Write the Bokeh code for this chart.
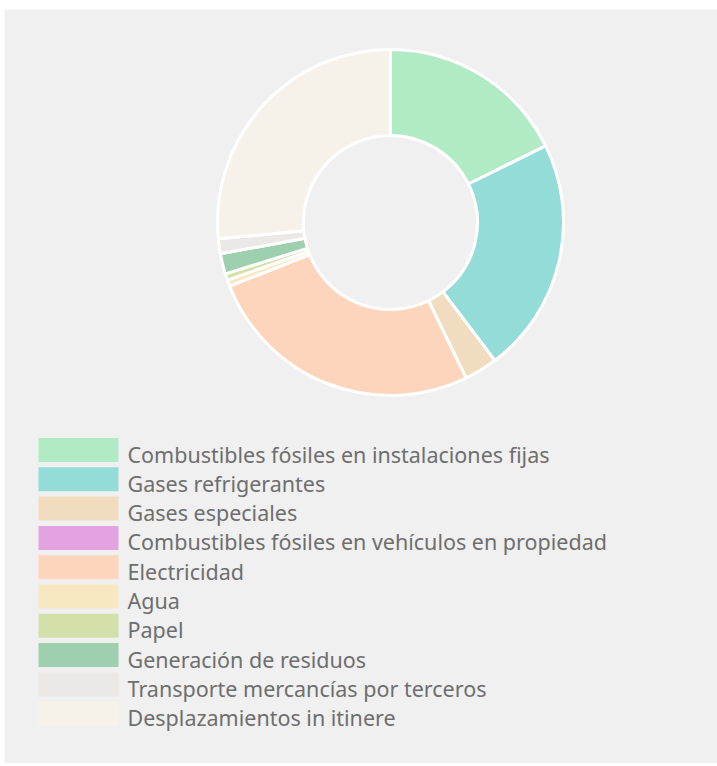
import math
from bokeh.plotting import figure
from bokeh.models import ColumnDataSource, Range1d
from bokeh.core.properties import value
from bokeh.embed import file_html
from bokeh.resources import INLINE

categories = [
    "Combustibles fósiles en instalaciones fijas",
    "Gases refrigerantes",
    "Gases especiales",
    "Combustibles fósiles en vehículos en propiedad",
    "Electricidad",
    "Agua",
    "Papel",
    "Generación de residuos",
    "Transporte mercancías por terceros",
    "Desplazamientos in itinere",
]
values = [17.7, 22.0, 3.1, 0.0, 26.2, 0.6, 0.6, 1.9, 1.4, 26.5]
colors = ["#b0ebc5", "#93dcd8", "#f1dcc0", "#e3a3e0", "#fdd5bd",
          "#f7e8c2", "#d4e0a9", "#9ecfae", "#ebe8e5", "#f6f2ea"]

W, H = 717, 763
total = sum(values)
starts, ends = [], []
acc = 0.0
for v in values:
    starts.append(math.pi / 2 - acc / total * 2 * math.pi)
    acc += v
    ends.append(math.pi / 2 - acc / total * 2 * math.pi)

keep = [i for i, v in enumerate(values) if v > 0]
src = ColumnDataSource(dict(cat=[categories[i] for i in keep],
                            color=[colors[i] for i in keep],
                            start=[starts[i] for i in keep],
                            end=[ends[i] for i in keep]))

cx, cy = 390, H - 222

p = figure(width=W, height=H, output_backend="svg", toolbar_location=None,
           x_range=Range1d(0, W), y_range=Range1d(0, H),
           min_border=0, background_fill_color="white",
           border_fill_color="white", outline_line_color=None)
p.axis.visible = False
p.grid.visible = False

# panel background
p.quad(left=4, right=W, bottom=0, top=H - 9, fill_color="#f0f0f0", line_color=None)

p.annular_wedge(x=cx, y=cy, inner_radius=87, outer_radius=173,
                start_angle="start", end_angle="end", direction="clock",
                fill_color="color", line_color="white", line_width=3,
                source=src)

# legend
n = len(categories)
ly = [H - (449.5 + i * 29.3) for i in range(n)]
ty = [H - (453.5 + i * 29.3) for i in range(n)]
lsrc = ColumnDataSource(dict(cat=categories, color=colors, y=ly, ty=ty,
                             x=[78] * n, tx=[127] * n))
p.rect(x="x", y="y", width=80, height=24, fill_color="color", line_color=None,
       source=lsrc)
p.text(x="tx", y="ty", text="cat", text_font=value("Noto Sans"),
       text_font_size="21.5px", text_color="#6e6e6e", text_baseline="middle",
       source=lsrc)

open("out.html", "w").write(file_html(p, INLINE))
